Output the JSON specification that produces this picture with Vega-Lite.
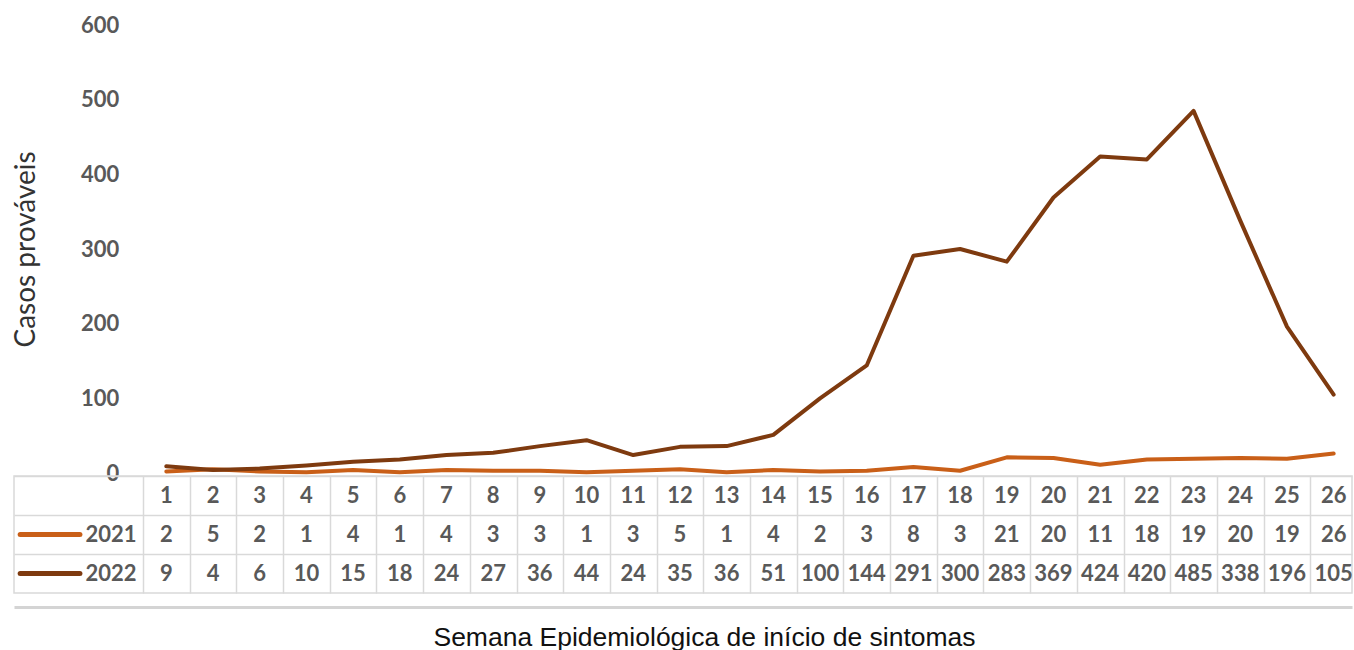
{
  "$schema": "https://vega.github.io/schema/vega-lite/v6.json",
  "padding": {"left": 12, "top": 14, "right": 0, "bottom": 0},
  "background": "white",
  "config": {"view": {"stroke": null}, "font": "Lato"},
  "spacing": 3,
  "bounds": "flush",
  "datasets": {
    "casos": [
      {"semana": 1, "2021": 2, "2022": 9},
      {"semana": 2, "2021": 5, "2022": 4},
      {"semana": 3, "2021": 2, "2022": 6},
      {"semana": 4, "2021": 1, "2022": 10},
      {"semana": 5, "2021": 4, "2022": 15},
      {"semana": 6, "2021": 1, "2022": 18},
      {"semana": 7, "2021": 4, "2022": 24},
      {"semana": 8, "2021": 3, "2022": 27},
      {"semana": 9, "2021": 3, "2022": 36},
      {"semana": 10, "2021": 1, "2022": 44},
      {"semana": 11, "2021": 3, "2022": 24},
      {"semana": 12, "2021": 5, "2022": 35},
      {"semana": 13, "2021": 1, "2022": 36},
      {"semana": 14, "2021": 4, "2022": 51},
      {"semana": 15, "2021": 2, "2022": 100},
      {"semana": 16, "2021": 3, "2022": 144},
      {"semana": 17, "2021": 8, "2022": 291},
      {"semana": 18, "2021": 3, "2022": 300},
      {"semana": 19, "2021": 21, "2022": 283},
      {"semana": 20, "2021": 20, "2022": 369},
      {"semana": 21, "2021": 11, "2022": 424},
      {"semana": 22, "2021": 18, "2022": 420},
      {"semana": 23, "2021": 19, "2022": 485},
      {"semana": 24, "2021": 20, "2022": 338},
      {"semana": 25, "2021": 19, "2022": 196},
      {"semana": 26, "2021": 26, "2022": 105}
    ],
    "series": [{"ano": "2021"}, {"ano": "2022"}]
  },
  "vconcat": [
    {
      "width": 1338,
      "height": 448,
      "data": {"name": "casos"},
      "transform": [{"fold": ["2021", "2022"], "as": ["ano", "casos"]}],
      "mark": {"type": "line", "strokeWidth": 4, "strokeCap": "round", "strokeJoin": "round"},
      "encoding": {
        "x": {"field": "semana", "type": "quantitative", "scale": {"domain": [-2.262, 26.393], "nice": false, "zero": false}, "axis": null},
        "y": {
          "field": "casos", "type": "quantitative",
          "scale": {"domain": [0, 600], "nice": false},
          "axis": {
            "values": [0, 100, 200, 300, 400, 500, 600],
            "offset": -128.7, "domain": false, "ticks": false, "tickSize": 0, "grid": false,
            "labelPadding": 24, "labelFont": "Lato", "labelFontSize": 22, "labelFontWeight": "bold", "labelColor": "#595959",
            "title": "Casos prováveis", "titleFont": "Lato", "titleFontSize": 28, "titleFontWeight": "normal", "titleColor": "#333333", "titlePadding": 40
          }
        },
        "color": {"field": "ano", "type": "nominal", "scale": {"domain": ["2021", "2022"], "range": ["#c95f18", "#7e3a0f"]}, "legend": null}
      }
    },
    {
      "width": 1338,
      "height": 117,
      "view": {"stroke": "#d9d9d9", "strokeWidth": 1.5},
      "layer": [
        {
          "data": {"name": "casos"},
          "mark": {"type": "text", "font": "Lato", "fontSize": 22, "fontWeight": "bold", "color": "#595959"},
          "encoding": {
            "x": {
              "field": "semana", "type": "quantitative",
              "scale": {"domain": [-2.262, 26.393], "nice": false, "zero": false},
              "axis": {
                "values": [0.5, 1.5, 2.5, 3.5, 4.5, 5.5, 6.5, 7.5, 8.5, 9.5, 10.5, 11.5, 12.5, 13.5, 14.5, 15.5, 16.5, 17.5, 18.5, 19.5, 20.5, 21.5, 22.5, 23.5, 24.5, 25.5],
                "grid": true, "gridColor": "#d9d9d9", "gridWidth": 1.5,
                "labels": false, "ticks": false, "tickSize": 0,
                "domain": true, "domainColor": "#d4d4d4", "domainWidth": 3, "offset": 14,
                "title": "Semana Epidemiológica de início de sintomas",
                "titleFont": "Liberation Sans", "titleFontSize": 26.5, "titleFontWeight": "normal", "titleColor": "#111111", "titlePadding": 17,
                "titleX": 690
              }
            },
            "y": {"datum": "Semana", "type": "nominal", "scale": {"domain": ["Semana", "2021", "2022"], "paddingInner": 0, "paddingOuter": 0}},
            "text": {"field": "semana", "type": "quantitative"}
          }
        },
        {
          "data": {"name": "casos"},
          "transform": [{"fold": ["2021", "2022"], "as": ["ano", "casos"]}],
          "mark": {"type": "text", "font": "Lato", "fontSize": 22, "fontWeight": "bold", "color": "#595959"},
          "encoding": {
            "x": {"field": "semana", "type": "quantitative"},
            "y": {
              "field": "ano", "type": "nominal",
              "scale": {"domain": ["Semana", "2021", "2022"], "paddingInner": 0, "paddingOuter": 0},
              "axis": {"grid": true, "bandPosition": 0, "gridColor": "#d9d9d9", "gridWidth": 1.5, "labels": false, "ticks": false, "domain": false, "title": null}
            },
            "text": {"field": "casos", "type": "quantitative"}
          }
        },
        {
          "data": {"name": "series"},
          "mark": {"type": "rule", "strokeWidth": 5, "strokeCap": "round"},
          "encoding": {
            "x": {"datum": -2.13},
            "x2": {"datum": -0.85},
            "y": {"field": "ano", "type": "nominal"},
            "color": {"field": "ano", "type": "nominal", "scale": {"domain": ["2021", "2022"], "range": ["#c95f18", "#7e3a0f"]}, "legend": null}
          }
        },
        {
          "data": {"name": "series"},
          "mark": {"type": "text", "align": "right", "font": "Lato", "fontSize": 22, "fontWeight": "bold", "color": "#595959"},
          "encoding": {
            "x": {"datum": 0.36},
            "y": {"field": "ano", "type": "nominal"},
            "text": {"field": "ano", "type": "nominal"}
          }
        }
      ]
    }
  ]
}
